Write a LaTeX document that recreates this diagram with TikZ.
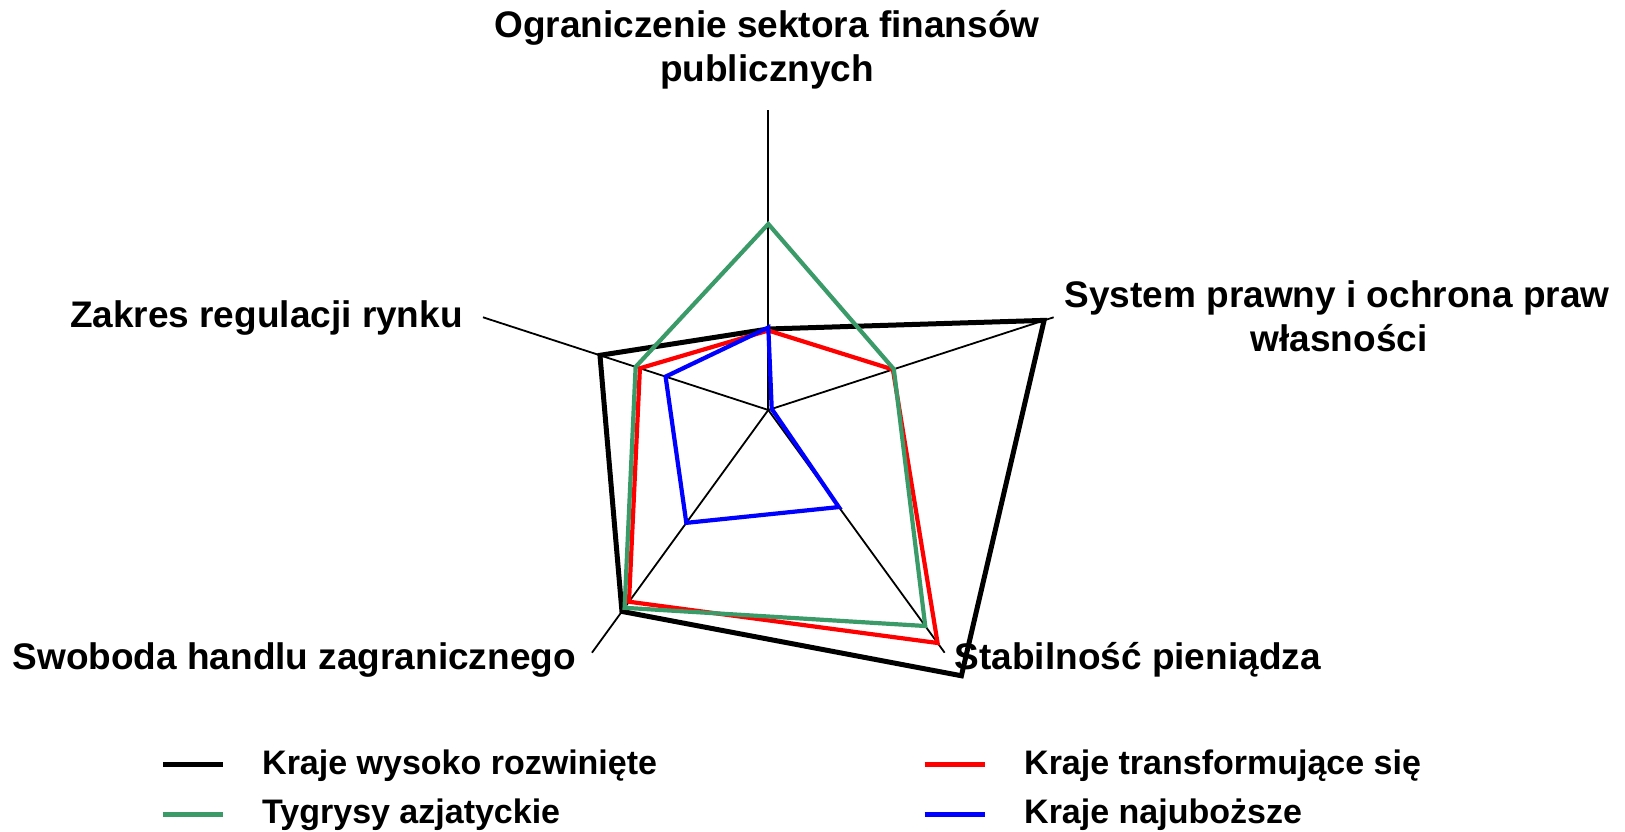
\documentclass[tikz,border=0pt]{standalone}
\usepackage{fontspec}
\setmainfont{Liberation Sans}
\definecolor{tgreen}{RGB}{58,154,104}
\definecolor{tred}{RGB}{255,0,0}
\definecolor{tblue}{RGB}{0,0,255}
\begin{document}
\begin{tikzpicture}[x=1pt,y=1pt,
  axisline/.style={black,line width=1.8pt},
  series/.style={line width=4.2pt,line join=miter,miter limit=30},
  lbl/.style={inner sep=0pt,font=\fontsize{37}{44}\selectfont\bfseries},
  leg/.style={inner sep=0pt,font=\fontsize{34}{40}\selectfont\bfseries,anchor=base west},
  legline/.style={line width=5pt}]
\useasboundingbox (0,0) rectangle (1625,832);
% radar
\begin{scope}[shift={(768.3,422)}]
  \coordinate (O) at (0,0);
  \foreach \a/\n in {90/ax1,18/ax2,-54/ax3,-126/ax4,162/ax5}{
    \coordinate (\n) at (\a:300pt);
    \draw[axisline] (O) -- (\n);
  }
  % Kraje wysoko rozwiniete
  \draw[series,black,line width=5pt] (90:81pt) -- (18:290pt) -- (-54:328.5pt) -- (-126:249pt) -- (162:177pt) -- cycle;
  % Kraje transformujace sie
  \draw[series,tred] (90:79.5pt) -- (18:131pt) -- (-54:288pt) -- (-126:237pt) -- (162:135pt) -- cycle;
  % Tygrysy azjatyckie
  \draw[series,tgreen] (90:186pt) -- (18:132pt) -- (-54:267pt) -- (-126:244.5pt) -- (162:139.5pt) -- cycle;
  % Kraje najubozsze
  \draw[series,tblue] (90:82.5pt) -- (18:3.6pt) -- (-54:120pt) -- (-126:139.5pt) -- (162:108pt) -- cycle;
\end{scope}
% axis labels
\node[lbl,anchor=base] (t1a) at (767,794.5) {Ograniczenie sektora finansów};
\node[lbl,anchor=base] (t1b) at (767,750) {publicznych};
\node[lbl,anchor=base] (t2a) at (1337,524) {System prawny i ochrona praw};
\node[lbl,anchor=base] (t2b) at (1339,480) {własności};
\node[lbl,anchor=base west] (t3) at (954.5,162.5) {Stabilność pieniądza};
\node[lbl,anchor=base west] (t4) at (12.4,162.5) {Swoboda handlu zagranicznego};
\node[lbl,anchor=base east] (t5) at (463,504.5) {Zakres regulacji rynku};
% legend
\coordinate (l1a) at (163,67);   \coordinate (l1b) at (223,67);
\coordinate (l2a) at (163,17.4); \coordinate (l2b) at (223,17.4);
\coordinate (l3a) at (924.5,67);   \coordinate (l3b) at (984.6,67);
\coordinate (l4a) at (924.5,17.4); \coordinate (l4b) at (984.6,17.4);
\draw[legline,black] (l1a) -- (l1b);
\draw[legline,tgreen] (l2a) -- (l2b);
\draw[legline,tred] (l3a) -- (l3b);
\draw[legline,tblue] (l4a) -- (l4b);
\node[leg] (g1) at (262,57) {Kraje wysoko rozwinięte};
\node[leg] (g2) at (262,8) {Tygrysy azjatyckie};
\node[leg] (g3) at (1024,57) {Kraje transformujące się};
\node[leg] (g4) at (1024,8) {Kraje najuboższe};
\end{tikzpicture}
\end{document}
